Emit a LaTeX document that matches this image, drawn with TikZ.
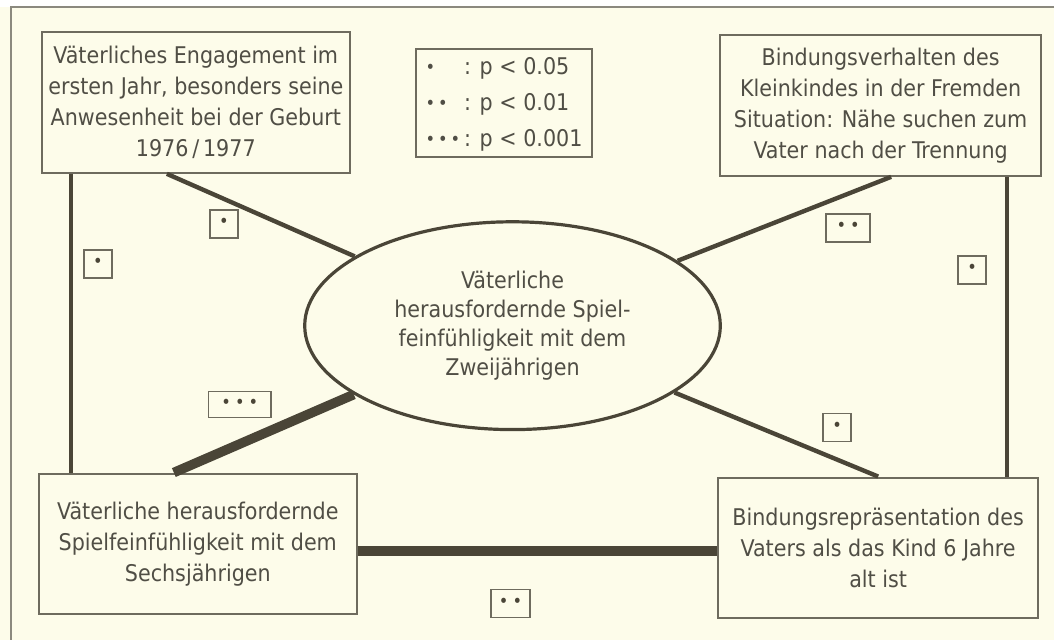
\documentclass[tikz,border=0pt]{standalone}
\usepackage{fontspec}
\setmainfont{DejaVu Sans Condensed}
\usetikzlibrary{calc,shapes.geometric}
\definecolor{paper}{HTML}{FDFCEA}
\definecolor{ink}{HTML}{4A4537}
\definecolor{txt}{HTML}{504E45}
\definecolor{edge}{HTML}{6E6B5E}
\newcommand\sigdot{\raisebox{0.1ex}{\fontsize{9}{9}\selectfont\textbullet}}

\begin{document}
\begin{tikzpicture}[x=0.5pt,y=-0.5pt,
  box/.style={draw=edge,line width=1pt,text=txt,align=center,minimum height=70.5pt,inner sep=0pt,font=\fontsize{11.5}{15.5}\selectfont},
  sig/.style={draw=edge,line width=0.8pt,minimum width=14pt,minimum height=14pt,inner sep=0pt,text=ink},
  link/.style={ink,line width=2.2pt},
  bold link/.style={ink,line width=4.8pt}]
\fill[paper] (0,0) rectangle (1055,641);
\fill[white] (0,0) rectangle (1055,7);
\draw[edge!80,line width=1pt] (1055,7) -- (11,7) -- (11,641);
% boxes
\node[box,minimum width=154pt] (tl) at (196,102.5) {Väterliches Engagement im\\ersten Jahr, besonders seine\\Anwesenheit bei der Geburt\\1976\,/\,1977};
\node[box,minimum width=160.5pt] (tr) at (881.5,105.5) {Bindungsverhalten des\\Kleinkindes in der Fremden\\Situation: Nähe suchen zum\\Vater nach der Trennung};
\node[box,minimum width=159pt] (bl) at (198,544.5) {Väterliche herausfordernde\\Spielfeinfühligkeit mit dem\\Sechsjährigen};
\node[box,minimum width=160pt] (br) at (879,548.5) {Bindungsrepräsentation des\\Vaters als das Kind 6 Jahre\\alt ist};
\node[ellipse,draw=ink,line width=1.6pt,fill=paper,text=txt,align=center,minimum width=208pt,minimum height=104pt,inner sep=0pt,font=\fontsize{11.5}{14.5}\selectfont] (ell) at (513,326) {Väterliche\\herausfordernde Spiel-\\feinfühligkeit mit dem\\Zweijährigen};
\node[draw=edge,line width=1pt,text=txt,minimum width=88.5pt,minimum height=53.5pt,inner sep=0pt,font=\fontsize{11.5}{18}\selectfont] (key) at (504.5,103.5) {\begin{tabular}{@{}l@{\,}l@{}}\sigdot & : p < 0.05\\\sigdot\hspace{1.5pt}\sigdot & : p < 0.01\\\sigdot\hspace{1.5pt}\sigdot\hspace{1.5pt}\sigdot & : p < 0.001\end{tabular}};
% links
\coordinate (lv) at ($(tl.south west)+(30,0)$);
\coordinate (rv) at ($(tr.south east)+(-35,0)$);
\draw[link] (lv) -- (lv |- bl.north);
\draw[link] (rv) -- (rv |- br.north);
\draw[link] ($(tl.south west)+(126,0)$) -- (ell);
\draw[link] ($(tr.south west)+(172,0)$) -- (ell);
\draw[link] ($(br.north west)+(161,0)$) -- (ell);
\draw[bold link] ($(bl.north west)+(136,0)$) -- (ell);
\draw[bold link] (bl.east) ++(0,7) coordinate (h) -- (h -| br.west);
% significance marks
\node[sig] (s1) at (224,224) {\sigdot};
\node[sig] (s2) at (98,264) {\sigdot};
\node[sig,minimum width=31.5pt,minimum height=13pt] (s3) at (240,405) {\sigdot\hspace{2pt}\sigdot\hspace{2pt}\sigdot};
\node[sig,minimum width=22pt] (s4) at (849,228) {\sigdot\hspace{2pt}\sigdot};
\node[sig] (s5) at (973,270) {\sigdot};
\node[sig] (s6) at (838,428) {\sigdot};
\node[sig,minimum width=19.5pt] (s7) at (511,604) {\sigdot\hspace{2pt}\sigdot};
\end{tikzpicture}
\end{document}
